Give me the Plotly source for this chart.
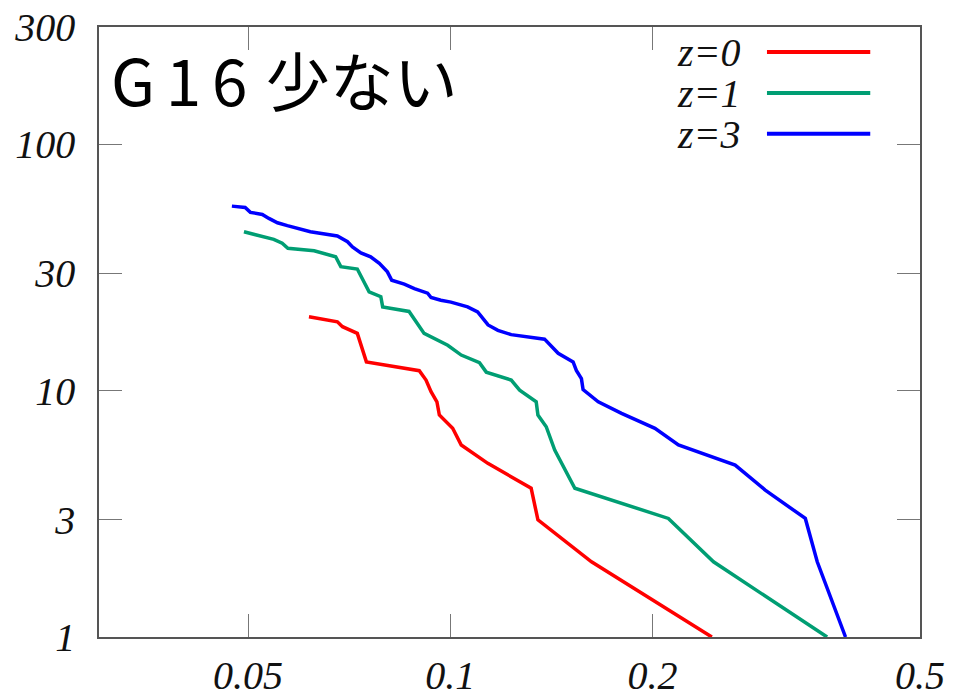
import plotly.graph_objects as go

# Survival-type curves on log-log axes for three redshifts
x_z0 = [0.0616, 0.0679, 0.0691, 0.0727, 0.0750, 0.0899, 0.0920, 0.0936, 0.0955,
        0.0963, 0.1008, 0.1038, 0.1137, 0.1319, 0.1350, 0.1622, 0.2450]
y_z0 = [19.97, 19.06, 18.2, 17.1, 13.1, 12.06, 11.05, 9.91, 9.02,
        7.97, 7.04, 6.02, 5.07, 4.02, 2.99, 2.02, 1.0]

x_z1 = [0.0493, 0.0546, 0.0562, 0.0573, 0.0627, 0.0675, 0.0687, 0.0727, 0.0757,
        0.0788, 0.0793, 0.0868, 0.0914, 0.0991, 0.1038, 0.1105, 0.1131, 0.1232,
        0.1268, 0.1342, 0.1350, 0.1389, 0.1430, 0.1532, 0.2111, 0.2464, 0.3637]
y_z1 = [44.2, 41.2, 39.7, 37.9, 37.0, 35.0, 31.9, 31.2, 25.2,
        24.1, 21.9, 21.0, 17.1, 15.3, 13.96, 13.0, 11.9, 11.05,
        10.06, 9.02, 7.97, 7.14, 5.74, 4.02, 3.03, 2.02, 1.0]

x_z3 = [0.0473, 0.0495, 0.0504, 0.0525, 0.0537, 0.0553, 0.0572, 0.0599, 0.0619,
        0.0679, 0.0703, 0.0715, 0.0736, 0.0761, 0.0784, 0.0806, 0.0818, 0.0854,
        0.0884, 0.0925, 0.0936, 0.0968, 0.1002, 0.1061, 0.1098, 0.1138, 0.1177,
        0.1232, 0.1381, 0.1447, 0.1523, 0.1540, 0.1567, 0.1576, 0.1660, 0.1798,
        0.2016, 0.2185, 0.2654, 0.2942, 0.3375, 0.3516, 0.3874]
y_z3 = [56.2, 55.5, 53.0, 52.0, 50.1, 48.1, 46.8, 45.2, 44.2,
        42.5, 40.3, 38.4, 36.3, 35.0, 32.9, 30.4, 28.1, 27.1,
        26.0, 24.9, 23.9, 23.3, 22.9, 21.9, 20.9, 18.5, 17.6,
        16.9, 16.2, 14.2, 13.1, 12.1, 11.2, 10.1, 9.02, 8.09,
        7.04, 6.02, 4.99, 3.95, 3.03, 2.02, 1.0]

series_names = ["z=0", "z=1", "z=3"]
series_colors = ["#ff0000", "#009e73", "#0000ff"]

x_ticks = [0.05, 0.1, 0.2, 0.5]
x_tick_text = ["0.05", "0.1", "0.2", "0.5"]
y_ticks = [1, 3, 10, 30, 100, 300]
y_tick_text = ["1", "3", "10", "30", "100", "300"]

# six-per-em and hair spaces widen the Latin part of the heading
title_text = "G\u20061\u20066 \u200a少ない"

serif_italic = dict(family="Liberation Serif, Times New Roman, serif",
                    size=40, color="#111111", style="italic")

fig = go.Figure()
for xs, ys, name, color in zip([x_z0, x_z1, x_z3], [y_z0, y_z1, y_z3],
                               series_names, series_colors):
    fig.add_trace(go.Scatter(x=xs, y=ys, mode="lines", name=name,
                             line=dict(color=color, width=3.5),
                             showlegend=False))

# hand-drawn key in the upper right corner
legend_y = [0.959, 0.892, 0.825]
for name, color, ly in zip(series_names, series_colors, legend_y):
    fig.add_annotation(x=0.783, y=ly, xref="paper", yref="paper",
                       text=name, showarrow=False, xanchor="right",
                       yanchor="middle", font=serif_italic,
                       height=38, borderpad=0)
    fig.add_shape(type="line", xref="paper", yref="paper",
                  x0=0.8136, x1=0.9394, y0=ly, y1=ly,
                  line=dict(color=color, width=4))

fig.add_annotation(x=0.012, y=0.917, xref="paper", yref="paper",
                   text=title_text, showarrow=False, xanchor="left",
                   yanchor="middle",
                   font=dict(family="Noto Sans CJK JP, Noto Sans, sans-serif",
                             size=64, color="#000000"))

axis_common = dict(showgrid=False, zeroline=False, showline=True,
                   mirror="ticks", linecolor="#555555", linewidth=1.5,
                   ticks="inside", ticklen=23, tickwidth=1.2,
                   tickcolor="#777777", tickfont=serif_italic,
                   automargin=False)

fig.update_xaxes(type="log", range=[-1.5229, -0.30103],
                 tickvals=x_ticks, ticktext=x_tick_text,
                 ticklabelstandoff=2, **axis_common)
fig.update_yaxes(type="log", range=[0, 2.4771],
                 tickvals=y_ticks, ticktext=y_tick_text,
                 ticklabelstandoff=14, **axis_common)

fig.update_layout(width=956, height=698,
                  margin=dict(l=99, r=36, t=27, b=61),
                  plot_bgcolor="white", paper_bgcolor="white")

fig.write_html("out.html")
